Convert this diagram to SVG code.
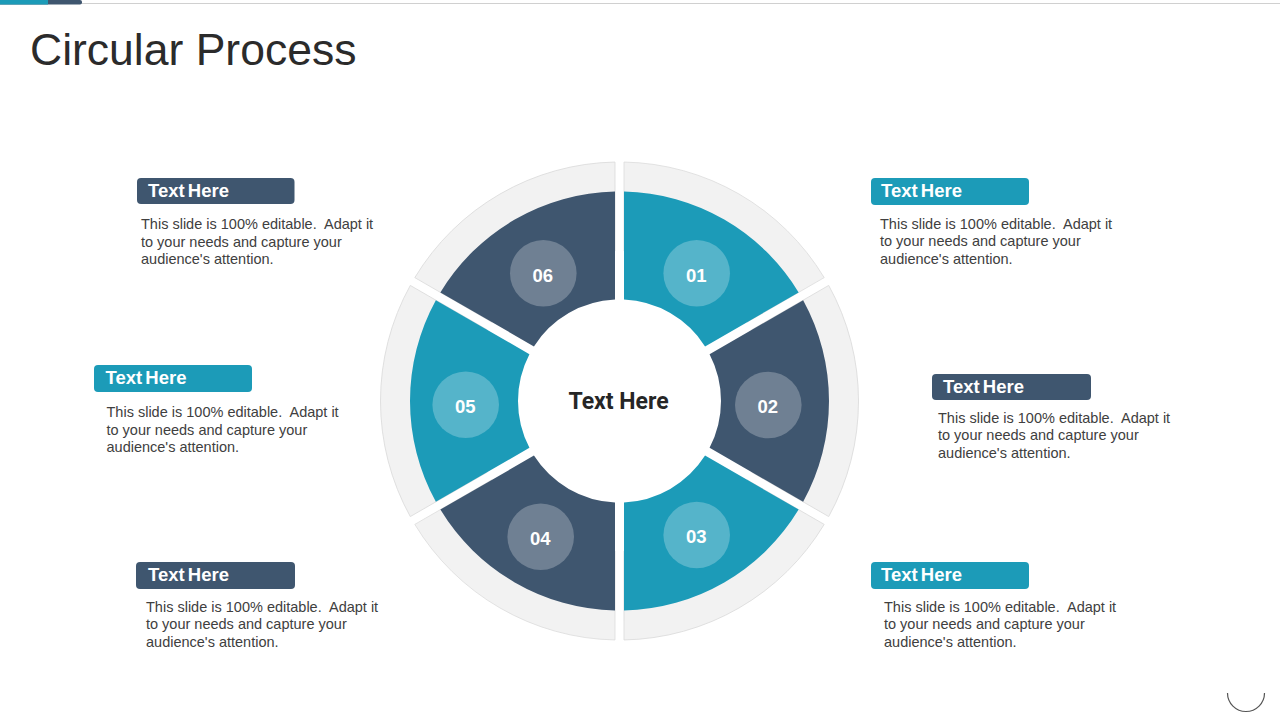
<svg xmlns="http://www.w3.org/2000/svg" xmlns:xlink="http://www.w3.org/1999/xlink" width="1280" height="720" viewBox="0 0 1280 720">
<style>
.teal{fill:#1c9bb8}
.dark{fill:#3f566f}
.ring{fill:#f2f2f2;stroke:#dcdcdc;stroke-width:0.8}
.badge{fill:#ffffff;fill-opacity:0.25}
.num{font-family:"Liberation Sans",Arial,sans-serif;font-weight:bold;font-size:18.5px;fill:#ffffff;text-anchor:middle}
.head{font-family:"Liberation Sans",Arial,sans-serif;font-weight:bold;font-size:18.5px;fill:#ffffff;word-spacing:-2px}
.body{font-family:"Liberation Sans",Arial,sans-serif;font-size:14.5px;fill:#404040;white-space:pre}
.title{font-family:"Liberation Sans",Arial,sans-serif;font-size:44.5px;fill:#2b2b2b}
.center{font-family:Roboto,"Liberation Sans",Arial,sans-serif;font-weight:bold;font-size:23px;fill:#262626;text-anchor:middle}
</style>
<defs>
<path id="grayPiece" d="M4.5,-238.96 A239,239 0 0 1 204.69,-123.38 L127.60,-78.86 A150,150 0 0 0 4.5,-149.93 Z"/>
<path id="colPiece" d="M4.5,-209.45 A209.5,209.5 0 0 1 179.14,-108.62 L85.57,-54.60 A101.5,101.5 0 0 0 4.5,-101.40 Z"/>
</defs>
<rect width="1280" height="720" fill="#ffffff"/>
<g id="topbar">
<line x1="80" y1="3.5" x2="1280" y2="3.5" stroke="#d0d0d0" stroke-width="1"/>
<path d="M0,0 H80 A2,2 0 0 1 82,2 V2.5 A2,2 0 0 1 80,4.5 H0 Z" fill="#3f566f"/>
<rect x="0" y="0" width="48" height="4.5" fill="#1c9bb8"/>
</g>
<text class="title" x="30" y="64.5">Circular Process</text>

<g id="seg01">
<g transform="translate(619.5 401) rotate(0)"><use xlink:href="#grayPiece" class="ring"/><use xlink:href="#colPiece" class="teal"/></g>
<circle class="badge" cx="696.7" cy="273.3" r="33.3"/>
<text class="num" x="696.2" y="281.5">01</text>
</g>
<g id="seg02">
<g transform="translate(619.5 401) rotate(60)"><use xlink:href="#grayPiece" class="ring"/><use xlink:href="#colPiece" class="dark"/></g>
<circle class="badge" cx="768.3" cy="405" r="33.3"/>
<text class="num" x="767.8" y="413.2">02</text>
</g>
<g id="seg03">
<g transform="translate(619.5 401) rotate(120)"><use xlink:href="#grayPiece" class="ring"/><use xlink:href="#colPiece" class="teal"/></g>
<circle class="badge" cx="696.7" cy="535" r="33.3"/>
<text class="num" x="696.2" y="543.2">03</text>
</g>
<g id="seg04">
<g transform="translate(619.5 401) rotate(180)"><use xlink:href="#grayPiece" class="ring"/><use xlink:href="#colPiece" class="dark"/></g>
<circle class="badge" cx="540.7" cy="536.7" r="33.3"/>
<text class="num" x="540.2" y="544.9">04</text>
</g>
<g id="seg05">
<g transform="translate(619.5 401) rotate(240)"><use xlink:href="#grayPiece" class="ring"/><use xlink:href="#colPiece" class="teal"/></g>
<circle class="badge" cx="465.7" cy="404.7" r="33.3"/>
<text class="num" x="465.2" y="412.9">05</text>
</g>
<g id="seg06">
<g transform="translate(619.5 401) rotate(300)"><use xlink:href="#grayPiece" class="ring"/><use xlink:href="#colPiece" class="dark"/></g>
<circle class="badge" cx="543.3" cy="273.3" r="33.3"/>
<text class="num" x="542.8" y="281.5">06</text>
</g>

<g id="hub">
<text class="center" x="618.5" y="409">Text Here</text>
</g>

<g id="card-tl">
<rect x="137" y="178" width="157.5" height="26" rx="4" class="dark"/>
<text class="head" x="148" y="196.5">Text Here</text>
<text class="body" x="141" y="229">This slide is 100% editable.  Adapt it</text>
<text class="body" x="141" y="246.5">to your needs and capture your</text>
<text class="body" x="141" y="264">audience's attention.</text>
</g>
<g id="card-tr">
<rect x="871" y="178" width="158" height="27" rx="4" class="teal"/>
<text class="head" x="881" y="196.5">Text Here</text>
<text class="body" x="880" y="228.5">This slide is 100% editable.  Adapt it</text>
<text class="body" x="880" y="246">to your needs and capture your</text>
<text class="body" x="880" y="263.5">audience's attention.</text>
</g>
<g id="card-r">
<rect x="932" y="374" width="159" height="26" rx="4" class="dark"/>
<text class="head" x="943" y="392.5">Text Here</text>
<text class="body" x="938" y="422.5">This slide is 100% editable.  Adapt it</text>
<text class="body" x="938" y="440">to your needs and capture your</text>
<text class="body" x="938" y="457.5">audience's attention.</text>
</g>
<g id="card-l">
<rect x="94" y="365" width="158" height="27" rx="4" class="teal"/>
<text class="head" x="105.5" y="384">Text Here</text>
<text class="body" x="106.5" y="417">This slide is 100% editable.  Adapt it</text>
<text class="body" x="106.5" y="434.5">to your needs and capture your</text>
<text class="body" x="106.5" y="452">audience's attention.</text>
</g>
<g id="card-bl">
<rect x="136" y="562" width="159" height="27" rx="4" class="dark"/>
<text class="head" x="148" y="580.5">Text Here</text>
<text class="body" x="146" y="611.5">This slide is 100% editable.  Adapt it</text>
<text class="body" x="146" y="629">to your needs and capture your</text>
<text class="body" x="146" y="646.5">audience's attention.</text>
</g>
<g id="card-br">
<rect x="871" y="562" width="158" height="27" rx="4" class="teal"/>
<text class="head" x="881" y="580.5">Text Here</text>
<text class="body" x="884" y="611.5">This slide is 100% editable.  Adapt it</text>
<text class="body" x="884" y="629">to your needs and capture your</text>
<text class="body" x="884" y="646.5">audience's attention.</text>
</g>

<path id="corner-arc" d="M1227.5,693 A18.5,18.5 0 0 0 1264.5,693" fill="none" stroke="#555555" stroke-width="1.2"/>
</svg>
